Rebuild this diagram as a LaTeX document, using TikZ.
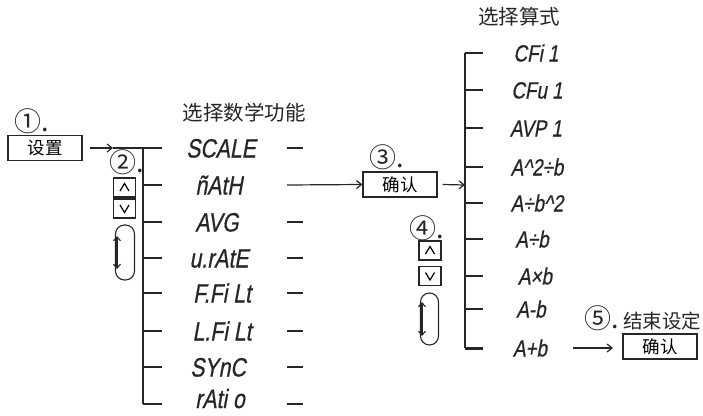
\documentclass[tikz,border=0pt]{standalone}
\usepackage{fontspec}
\usetikzlibrary{arrows.meta}
\newfontfamily\cjk{Noto Sans CJK SC}
\newfontfamily\lcd[FakeSlant=0.18,FakeStretch=0.8,FakeBold=0.6]{Liberation Sans}
\tikzset{
  ln/.style={line width=1.4pt, draw=black!85},
  tick/.style={line width=1.3pt, draw=black!85},
  arr/.style={line width=1.2pt, draw=black!85, -{Straight Barb[length=5pt,width=8pt]}},
  dbl/.style={line width=1.1pt, draw=black!85, {Straight Barb[length=4pt,width=7pt]}-{Straight Barb[length=4pt,width=7pt]}},
  btn/.style={draw=black!85, line width=1.2pt, minimum width=74pt, minimum height=25pt, inner sep=0pt, font=\cjk\fontsize{17.5}{17.5}\selectfont},
  keybox/.style={draw=black!85, line width=1.1pt, minimum width=22pt, minimum height=19pt, inner sep=0pt},
  capsule/.style={draw=black!85, line width=1.1pt, minimum width=19pt, minimum height=55pt, rounded corners=9pt, inner sep=0pt},
  lcdA/.style={font=\lcd\fontsize{26.5}{26.5}\selectfont, inner sep=0pt, text=black!85, anchor=base},
  lcdB/.style={font=\lcd\fontsize{23.5}{23.5}\selectfont, inner sep=0pt, text=black!85, anchor=base},
  title/.style={font=\cjk\fontsize{20.5}{20.5}\selectfont, inner sep=0pt, text=black!85},
  num/.style={font=\cjk\fontsize{27}{27}\selectfont, inner sep=0pt, text=black!85},
}
\begin{document}
\begin{tikzpicture}[x=1pt,y=-1pt]
\useasboundingbox (0,0) rectangle (703,415);
% ---- step 1
\node[num, anchor=west] (n1) at (14,121) {①.};
\node[btn] (set) at (45,148) {设置};
% ---- column 1
\coordinate (c1top) at (143,148);
\coordinate (c1bot) at (143,404);
\coordinate (h1) at (113,148);
\draw[ln] (c1top) -- (c1bot);
\draw[arr] (set.east) ++(7,0) coordinate (s1) (s1) -- (h1);
\draw[tick] (h1) -- (c1top);
\node[title] (t1) at (244,113) {选择数学功能};
\foreach \y/\x/\txt/\nm/\b in {148/221/SCALE/a1/9.5, 185/219/ñAtH/a2/9.5, 222/217/AVG/a3/9.5, 258/219/u.rAtE/a4/9.5, 293/222/F.Fi Lt/a5/9.5, 331/222/L.Fi Lt/a6/9.5, 367/218/SYnC/a7/9.5, 404/220/rAti o/a8/4}{
  \node[lcdA] (\nm) at (\x,\y+\b) {\txt};
  \coordinate (\nm l) at (143,\y);
  \coordinate (\nm r) at (162,\y);
  \draw[tick] (\nm l) -- (\nm r);
}
\foreach \y/\nm in {148/a1, 222/a3, 258/a4, 293/a5, 331/a6, 367/a7, 404/a8}{
  \coordinate (\nm d1) at (287,\y);
  \coordinate (\nm d2) at (303,\y);
  \draw[tick] (\nm d1) -- (\nm d2);
}
% step 2 keys
\node[num, anchor=west] (n2) at (109,162) {②.};
\node[keybox] (up1) at (124.5,187.5) {};
\node[keybox] (dn1) at (124.5,208.5) {};
\draw[line width=1.2pt] ([shift={(-4.5,3.5)}]up1.center) -- ([shift={(0,-4)}]up1.center) -- ([shift={(4.5,3.5)}]up1.center);
\draw[line width=1.2pt] ([shift={(-4.5,-3.5)}]dn1.center) -- ([shift={(0,4)}]dn1.center) -- ([shift={(4.5,-3.5)}]dn1.center);
\node[capsule] (cap1) at (125,252.5) {};
\coordinate (d1a) at (117,236);
\coordinate (d1b) at (117,269);
\draw[dbl] (d1a) -- (d1b);
% ---- step 3
\coordinate (a2d) at (287,185);
\node[num, anchor=west] (n3) at (369,157) {③.};
\node[btn] (ok1) at (400,184.5) {确认};
\draw[arr] (a2d) -- (ok1.west);
\coordinate (c2top) at (465,53);
\coordinate (c2bot) at (465,348);
\coordinate (c2mid) at (465,185);
\draw[ln] (c2top) -- (c2bot);
\draw[arr] (ok1.east) ++(5,0) coordinate (s3) (s3) -- (c2mid);
\node[title] (t2) at (519,17) {选择算式};
\foreach \y/\x/\txt/\nm in {53/536/CFi 1/b1, 90/537/CFu 1/b2, 128/536/AVP 1/b3, 167/537/{A\textasciicircum 2÷b}/b4, 203/537/{A÷b\textasciicircum 2}/b5, 239/532/A÷b/b6, 276/535/A×b/b7, 309/531/A-b/b8, 348/530/A+b/b9}{
  \node[lcdB] (\nm) at (\x,\y+8.5) {\txt};
  \coordinate (\nm l) at (465,\y);
  \coordinate (\nm r) at (483,\y);
  \draw[tick] (\nm l) -- (\nm r);
}
\draw[line width=3pt, draw=black!85] (465,348) -- (483,348);
% step 4 keys
\node[num, anchor=west] (n4) at (409,228) {④.};
\node[keybox] (up2) at (430,250.5) {};
\node[keybox] (dn2) at (430,276) {};
\draw[line width=1.2pt] ([shift={(-4.5,3.5)}]up2.center) -- ([shift={(0,-4)}]up2.center) -- ([shift={(4.5,3.5)}]up2.center);
\draw[line width=1.2pt] ([shift={(-4.5,-3.5)}]dn2.center) -- ([shift={(0,4)}]dn2.center) -- ([shift={(4.5,-3.5)}]dn2.center);
\node[capsule, minimum width=18pt, minimum height=52pt] (cap2) at (429.5,319) {};
\coordinate (d2a) at (422,302);
\coordinate (d2b) at (422,336);
\draw[dbl] (d2a) -- (d2b);
% ---- step 5
\node[num, anchor=west] (n5) at (584,318) {⑤.\,\fontsize{19.5}{19.5}\selectfont 结束设定};
\node[btn] (ok2) at (660,346.5) {确认};
\coordinate (b9r) at (573,348);
\coordinate (b9h) at (613,348);
\draw[arr] (b9r) -- (b9h);
\end{tikzpicture}
\end{document}
